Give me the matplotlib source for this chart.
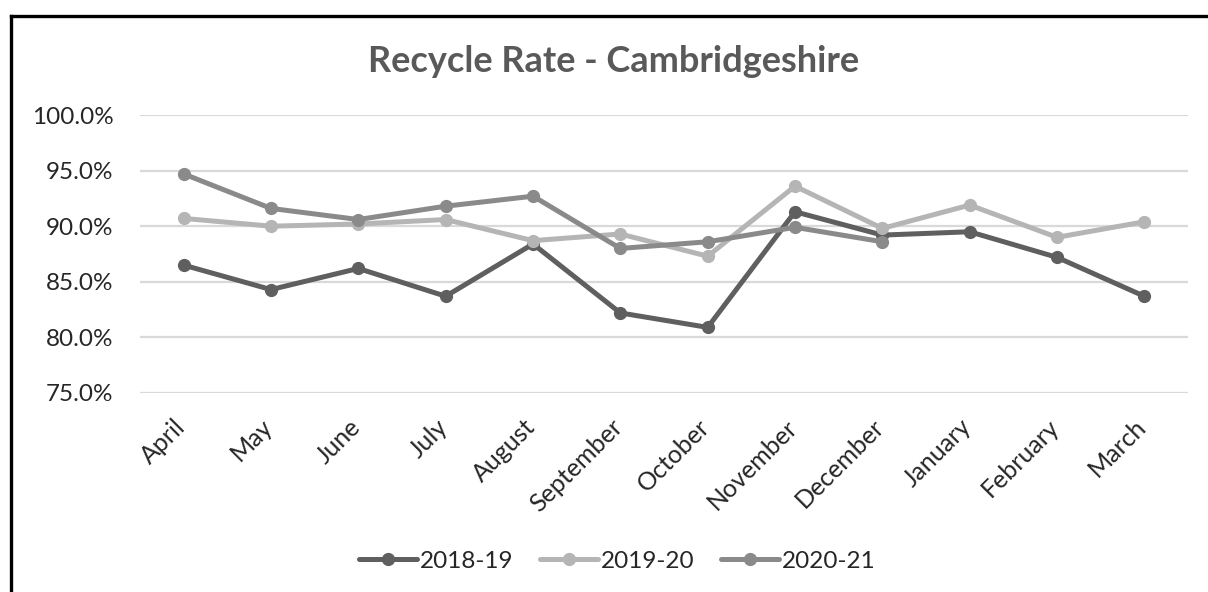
import matplotlib.pyplot as plt
from matplotlib.lines import Line2D
from matplotlib.ticker import PercentFormatter
from matplotlib.transforms import ScaledTranslation

months = ["April", "May", "June", "July", "August", "September", "October",
          "November", "December", "January", "February", "March"]

rate_2018_19 = [86.5, 84.3, 86.2, 83.7, 88.4, 82.2, 80.9, 91.3, 89.2, 89.5, 87.2, 83.7]
rate_2019_20 = [90.7, 90.0, 90.2, 90.6, 88.7, 89.3, 87.3, 93.6, 89.8, 91.9, 89.0, 90.4]
rate_2020_21 = [94.7, 91.6, 90.6, 91.8, 92.7, 88.0, 88.6, 89.9, 88.6]

series = [("2018-19", rate_2018_19, "#5f5f5f"),
          ("2019-20", rate_2019_20, "#b5b5b5"),
          ("2020-21", rate_2020_21, "#8a8a8a")]

plt.rcParams['font.family'] = ['Lato', 'DejaVu Sans']

W, H = 1208, 592
fig = plt.figure(figsize=(W / 100, H / 100), dpi=100)
ax = fig.add_axes([140 / W, 1 - 393 / H, 1048 / W, 278 / H])

for name, vals, col in series:
    ax.plot(range(len(vals)), vals, color=col, lw=3.6, marker='o', ms=8.5,
            label=name, solid_capstyle='round')

ax.set_xlim(-0.5, 11.5)
ax.set_ylim(75, 100)
ax.set_yticks([75, 80, 85, 90, 95, 100])
ax.yaxis.set_major_formatter(PercentFormatter(decimals=1))
ax.set_xticks(range(len(months)))
ax.set_xticklabels([])
ax.tick_params(axis='both', length=0, labelcolor='#262626')
ax.tick_params(axis='y', pad=19, labelsize=17.5)
ax.grid(axis='y', color='#d9d9d9', lw=1.6)
ax.set_axisbelow(True)
for s in ax.spines.values():
    s.set_visible(False)

# rotated month labels, right end anchored just below each category
lbl_trans = ax.get_xaxis_transform() + ScaledTranslation(-0.10, -0.22, fig.dpi_scale_trans)
for i, m in enumerate(months):
    ax.text(i, 0, m, transform=lbl_trans, rotation=45, ha='right', va='top',
            rotation_mode='anchor', fontsize=18, color='#262626')

fig.text(614 / W, 1 - 62 / H, "Recycle Rate - Cambridgeshire", ha='center', va='center',
         fontsize=26, fontweight='bold', color='#595959')

fig.legend(loc='center', bbox_to_anchor=(617 / W, 1 - 561 / H), ncol=3, frameon=False,
           fontsize=17.5, handlelength=2.4, columnspacing=1.1, handletextpad=0.1,
           labelcolor='#262626')

# outer chart border (only left and top edges visible in the crop)
fig.add_artist(Line2D([11 / W, 11 / W], [-0.05, 1 - 16 / H], transform=fig.transFigure,
                      color='black', lw=2.4))
fig.add_artist(Line2D([11 / W, 1.05], [1 - 16 / H, 1 - 16 / H], transform=fig.transFigure,
                      color='black', lw=2.4))

fig.savefig("out.png", dpi=100, facecolor='white')
